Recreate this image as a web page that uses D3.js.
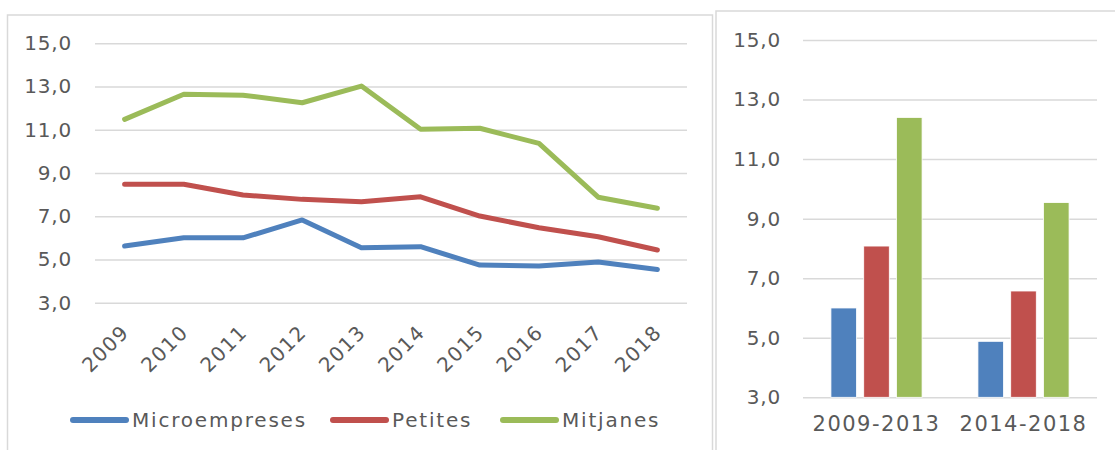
<!DOCTYPE html>
<html>
<head>
<meta charset="utf-8">
<script src="https://cdn.jsdelivr.net/npm/d3@7"></script>
<style>
  body { margin: 0; background: #fff; }
  text { font-family: 'DejaVu Sans', sans-serif; fill: #595959; }
</style>
</head>
<body>
<div id="chart"></div>
<script>
// data
var years = ['2009', '2010', '2011', '2012', '2013', '2014', '2015', '2016', '2017', '2018'];
var seriesNames = ['Microempreses', 'Petites', 'Mitjanes'];
var micro = [5.62, 6.0, 6.0, 6.83, 5.54, 5.59, 4.74, 4.7, 4.88, 4.54];
var petites = [8.48, 8.48, 7.98, 7.78, 7.67, 7.9, 7.01, 6.47, 6.05, 5.44];
var mitjanes = [11.48, 12.64, 12.6, 12.25, 13.02, 11.02, 11.07, 10.37, 7.88, 7.37];
var periods = ['2009-2013', '2014-2018'];
var microAvg = [6.0, 4.88];
var petitesAvg = [8.08, 6.57];
var mitjanesAvg = [12.4, 9.54];
var yTicks = [3, 5, 7, 9, 11, 13, 15];
var colors = ['#4f81bd', '#c0504d', '#9bbb59'];

var width = 1115;
var height = 450;
var fmt = d => d3.format('.1f')(d).replace('.', ',');

var svg = d3.select('#chart').append('svg')
    .attr('width', width)
    .attr('height', height);

// panel frames
svg.append('rect')
    .attr('x', 7.5).attr('y', 15)
    .attr('width', 705).attr('height', 460)
    .attr('fill', 'none').attr('stroke', '#d9d9d9').attr('stroke-width', 1.5);
svg.append('rect')
    .attr('x', 716).attr('y', 11)
    .attr('width', 420).attr('height', 460)
    .attr('fill', 'none').attr('stroke', '#d9d9d9').attr('stroke-width', 1.5);

// ---- line chart ----
var xScale = d3.scalePoint()
    .domain(years)
    .range([95, 687])
    .padding(0.5);

var yScale = d3.scaleLinear()
    .domain([3, 15])
    .range([302.7, 43.3]);

var yAxis = d3.axisLeft(yScale)
    .tickValues(yTicks)
    .tickSize(-(687 - 95))
    .tickFormat(fmt)
    .tickPadding(23);

var gy = svg.append('g')
    .attr('class', 'yAxis')
    .attr('transform', 'translate(95,0)')
    .call(yAxis);
gy.select('.domain').remove();
gy.selectAll('line').attr('stroke', '#d9d9d9').attr('stroke-width', 1.5);
gy.selectAll('text')
    .style('font-size', '20px')
    .style('letter-spacing', '0.8px')
    .attr('fill', '#595959');

var xAxis = d3.axisBottom(xScale).tickSize(0);
var gx = svg.append('g')
    .attr('class', 'xAxis')
    .attr('transform', 'translate(0,302.7)')
    .call(xAxis);
gx.select('.domain').remove();
gx.selectAll('text')
    .attr('text-anchor', 'end')
    .attr('x', 0).attr('y', 0).attr('dy', 0)
    .attr('transform', 'translate(5,31) rotate(-45)')
    .style('font-size', '20px')
    .style('letter-spacing', '1.3px')
    .attr('fill', '#595959');

var lineData = [micro, petites, mitjanes];
var line = d3.line()
    .x((d, i) => xScale(years[i]))
    .y(d => yScale(d));

svg.selectAll('path.series')
    .data(lineData)
    .enter()
    .append('path')
    .attr('class', 'series')
    .attr('d', line)
    .attr('fill', 'none')
    .attr('stroke', (d, i) => colors[i])
    .attr('stroke-width', 5)
    .attr('stroke-linecap', 'round')
    .attr('stroke-linejoin', 'round');

// legend
var legendX = [73, 333, 503];
var legend = svg.selectAll('g.legend')
    .data(seriesNames)
    .enter()
    .append('g')
    .attr('class', 'legend')
    .attr('transform', (d, i) => `translate(${legendX[i]},420)`);
legend.append('line')
    .attr('x1', 0).attr('x2', 53)
    .attr('y1', 0).attr('y2', 0)
    .attr('stroke', (d, i) => colors[i])
    .attr('stroke-width', 6)
    .attr('stroke-linecap', 'round');
legend.append('text')
    .attr('x', 59)
    .attr('y', 7)
    .text(d => d)
    .style('font-size', '20px')
    .style('letter-spacing', '1.8px');

// ---- bar chart ----
var x0 = d3.scaleBand()
    .domain(periods)
    .range([803, 1097])
    .paddingInner(0.38)
    .paddingOuter(0.19);

var x1 = d3.scaleBand()
    .domain(seriesNames)
    .range([0, x0.bandwidth()])
    .paddingInner(0.22);

var yBar = d3.scaleLinear()
    .domain([3, 15])
    .range([397.3, 40]);

var yBarAxis = d3.axisLeft(yBar)
    .tickValues(yTicks)
    .tickSize(-(1097 - 803))
    .tickFormat(fmt)
    .tickPadding(22);

var gyb = svg.append('g')
    .attr('transform', 'translate(803,0)')
    .call(yBarAxis);
gyb.select('.domain').remove();
gyb.selectAll('line').attr('stroke', '#d9d9d9').attr('stroke-width', 1.5);
gyb.selectAll('text')
    .style('font-size', '20px')
    .style('letter-spacing', '0.8px')
    .attr('fill', '#595959');

var barData = [];
periods.forEach((p, i) => {
    barData.push({ period: p, s: seriesNames[0], v: microAvg[i], c: colors[0] });
    barData.push({ period: p, s: seriesNames[1], v: petitesAvg[i], c: colors[1] });
    barData.push({ period: p, s: seriesNames[2], v: mitjanesAvg[i], c: colors[2] });
});

svg.selectAll('rect.bar')
    .data(barData)
    .enter()
    .append('rect')
    .attr('class', 'bar')
    .attr('x', d => x0(d.period) + x1(d.s))
    .attr('y', d => yBar(d.v))
    .attr('width', x1.bandwidth())
    .attr('height', d => yBar(3) - yBar(d.v))
    .attr('fill', d => d.c)
    .attr('stroke', '#fff')
    .attr('stroke-width', 0.8);

var xBarAxis = d3.axisBottom(x0).tickSize(0).tickPadding(0);
var gxb = svg.append('g')
    .attr('transform', 'translate(0,397.3)')
    .call(xBarAxis);
gxb.select('.domain').remove();
gxb.selectAll('text')
    .attr('dy', 0)
    .attr('y', 34)
    .style('font-size', '21px')
    .style('letter-spacing', '1.5px')
    .attr('fill', '#595959');
</script>
</body>
</html>
